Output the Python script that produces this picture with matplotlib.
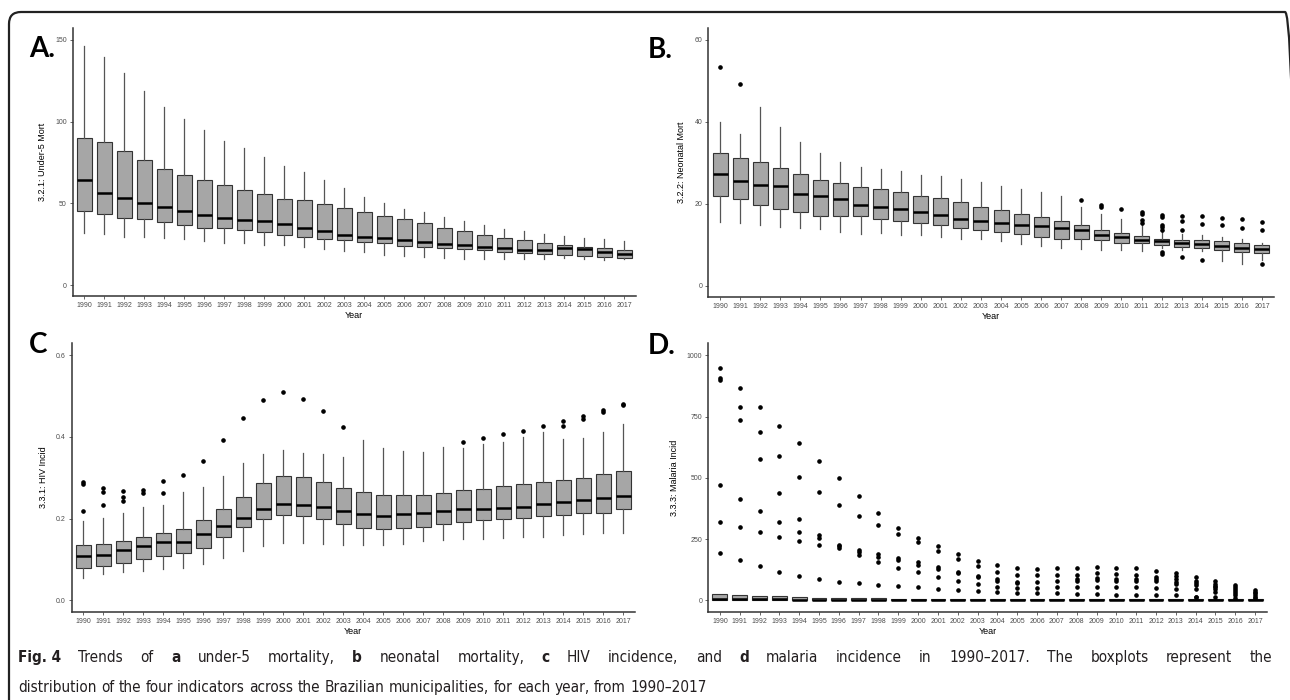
import numpy as np
import matplotlib.pyplot as plt
from matplotlib import font_manager
from matplotlib.font_manager import FontProperties
from matplotlib.patches import FancyBboxPatch
from matplotlib.transforms import IdentityTransform

YEARS = [str(y) for y in range(1990, 2018)]

# A. under-5 mortality
a_q1 = [45.3, 43.5, 41.0, 40.2, 38.4, 36.9, 35.1, 35.1, 33.9, 32.5, 30.6, 29.2, 28.4, 27.8,
        26.3, 25.5, 24.1, 23.3, 22.7, 22.0, 21.2, 20.2, 19.4, 19.0, 18.2, 18.0, 16.9, 16.5]
a_med = [64.3, 56.3, 53.5, 50.4, 47.6, 45.1, 42.9, 40.8, 40.0, 39.2, 37.4, 35.1, 33.1, 30.4,
         29.4, 28.6, 27.3, 26.1, 25.3, 24.3, 23.5, 22.5, 21.2, 21.6, 22.7, 21.8, 20.2, 19.2]
a_q3 = [89.8, 87.3, 82.3, 76.7, 71.2, 67.4, 64.1, 61.0, 58.2, 55.9, 52.7, 51.8, 49.6, 47.4,
        44.9, 42.5, 40.2, 38.0, 35.1, 33.1, 30.6, 28.8, 27.6, 25.7, 24.5, 23.5, 22.5, 21.2]
a_lo = [31.6, 31.0, 29.6, 29.2, 28.8, 28.2, 27.1, 25.5, 25.5, 24.7, 24.5, 23.3, 22.0, 21.0,
        20.0, 18.6, 17.8, 16.9, 16.5, 16.1, 15.9, 15.9, 15.9, 15.9, 16.5, 16.1, 15.3, 15.7]
a_hi = [146.3, 139.8, 129.6, 119.0, 109.2, 101.6, 94.7, 88.2, 83.7, 78.6, 72.7, 69.0, 64.1, 59.2,
        54.1, 50.2, 46.7, 44.5, 41.6, 39.4, 36.5, 34.3, 33.1, 31.0, 29.8, 29.0, 28.4, 27.1]
a_out = [[] for _ in YEARS]

# B. neonatal mortality
b_q1 = [21.8, 21.2, 19.6, 18.7, 18.1, 17.1, 17.1, 17.0, 16.2, 15.8, 15.3, 14.8, 14.2, 13.6,
        13.2, 12.6, 11.8, 11.5, 11.3, 11.2, 10.4, 10.4, 10.0, 9.5, 9.2, 8.7, 8.2, 7.9]
b_med = [27.3, 25.6, 24.5, 24.4, 22.5, 21.8, 21.1, 19.8, 19.2, 18.7, 18.0, 17.3, 16.2, 15.7,
         15.3, 14.9, 14.6, 14.0, 13.5, 12.4, 11.8, 11.2, 10.9, 10.5, 10.1, 9.8, 9.3, 9.0]
b_q3 = [32.5, 31.1, 30.3, 28.7, 27.2, 25.9, 25.1, 24.2, 23.5, 22.9, 21.8, 21.4, 20.4, 19.3,
        18.4, 17.5, 16.7, 15.8, 14.7, 13.7, 12.9, 12.1, 11.4, 11.2, 11.2, 11.0, 10.4, 10.0]
b_lo = [15.6, 15.4, 14.8, 14.4, 14.0, 13.8, 13.1, 12.6, 12.8, 12.4, 12.3, 11.8, 11.5, 11.3,
        10.9, 10.2, 9.6, 9.3, 9.0, 8.7, 8.7, 8.5, 9.1, 8.6, 8.5, 6.1, 5.4, 6.2]
b_hi = [40.0, 37.1, 43.6, 38.7, 35.0, 32.4, 30.3, 29.0, 28.5, 27.9, 27.0, 26.8, 26.1, 25.2,
        24.4, 23.7, 22.9, 21.9, 19.3, 17.5, 16.3, 15.2, 13.0, 12.7, 12.4, 11.8, 11.3, 10.5]
b_out = [[53.4], [49.2], [], [], [], [], [], [], [], [], [], [], [], [], [], [], [], [],
         [20.8], [19.8, 19.2], [18.6], [18.1, 17.6, 16.0, 15.4],
         [17.3, 16.7, 14.9, 14.4, 13.5, 8.2, 7.8], [17.0, 15.9, 13.6, 7.0],
         [17.1, 15.1, 6.3], [16.6, 14.7], [16.3, 14.0], [15.5, 13.6, 5.2]]

# C. HIV incidence
c_q1 = [0.080, 0.085, 0.092, 0.102, 0.109, 0.116, 0.129, 0.154, 0.180, 0.199, 0.210, 0.207, 0.200, 0.186,
        0.177, 0.175, 0.177, 0.180, 0.186, 0.192, 0.196, 0.199, 0.202, 0.206, 0.210, 0.213, 0.215, 0.223]
c_med = [0.109, 0.112, 0.122, 0.134, 0.142, 0.144, 0.162, 0.182, 0.202, 0.224, 0.235, 0.233, 0.228, 0.218,
         0.211, 0.207, 0.211, 0.215, 0.219, 0.223, 0.224, 0.225, 0.229, 0.235, 0.240, 0.246, 0.251, 0.256]
c_q3 = [0.135, 0.139, 0.146, 0.155, 0.165, 0.175, 0.196, 0.223, 0.253, 0.288, 0.304, 0.301, 0.290, 0.276,
        0.264, 0.257, 0.259, 0.257, 0.263, 0.270, 0.273, 0.279, 0.286, 0.290, 0.294, 0.300, 0.310, 0.316]
c_lo = [0.054, 0.064, 0.069, 0.073, 0.077, 0.080, 0.089, 0.104, 0.121, 0.132, 0.140, 0.140, 0.139, 0.136,
        0.135, 0.135, 0.138, 0.146, 0.148, 0.149, 0.151, 0.153, 0.154, 0.156, 0.160, 0.162, 0.166, 0.166]
c_hi = [0.194, 0.201, 0.213, 0.228, 0.233, 0.264, 0.278, 0.304, 0.335, 0.358, 0.368, 0.361, 0.358, 0.351,
        0.392, 0.374, 0.366, 0.362, 0.375, 0.374, 0.382, 0.388, 0.399, 0.411, 0.394, 0.397, 0.412, 0.432]
c_out = [[0.289, 0.286, 0.218], [0.276, 0.265, 0.233], [0.267, 0.254, 0.243], [0.271, 0.262],
         [0.291, 0.262], [0.308], [0.340], [0.392], [0.447], [0.490], [0.509], [0.494], [0.463],
         [0.425], [], [], [], [], [], [0.388], [0.398], [0.407], [0.415], [0.427], [0.439, 0.427],
         [0.452, 0.443], [0.465, 0.461], [0.480, 0.477]]

# D. malaria incidence
d_q1 = [1, 1, 1, 1, 0.5, 0.3, 0.3, 0.3, 0.3, 0, 0, 0, 0, 0,
        0, 0, 0, 0, 0, 0, 0, 0, 0, 0, 0, 0, 0, 0]
d_med = [6, 5, 4, 4, 3, 2, 2, 2, 2, 1, 1, 1, 1, 1,
         1, 1, 1, 1, 1, 1, 1, 1, 1, 1, 1, 1, 1, 1]
d_q3 = [27, 22, 19, 16, 12, 9, 9, 9, 9, 5, 5, 5, 5, 5,
        5, 5, 5, 5, 5, 5, 5, 5, 5, 5, 5, 5, 5, 4]
d_lo = [0] * 28
d_hi = d_q3
d_out = [[948, 908, 901, 470, 318, 193], [868, 789, 735, 414, 299, 166],
         [789, 685, 576, 363, 279, 141], [713, 588, 439, 318, 260, 117],
         [640, 505, 330, 279, 243, 98], [569, 442, 265, 254, 227, 86],
         [500, 390, 227, 220, 212, 76], [427, 344, 207, 197, 183, 71],
         [357, 306, 189, 178, 156, 64], [296, 269, 174, 164, 133, 58],
         [256, 236, 156, 144, 114, 53], [223, 202, 137, 129, 95, 46],
         [189, 170, 117, 111, 79, 43], [160, 139, 101, 94, 65, 37],
         [143, 115, 86, 80, 56, 33], [133, 103, 76, 72, 52, 31],
         [129, 102, 75, 50, 29], [133, 103, 79, 53, 29],
         [133, 105, 86, 79, 53, 26], [136, 110, 90, 82, 56, 26],
         [133, 107, 88, 79, 56, 23], [130, 102, 86, 79, 56, 20],
         [121, 95, 87, 79, 52, 22], [110, 98, 86, 76, 65, 46, 22],
         [96, 79, 72, 61, 48, 15, 12], [80, 65, 58, 53, 48, 34, 15],
         [61, 53, 45, 39, 29, 20, 11], [41, 35, 29, 20, 15, 8]]

BOX_FILL = "#a6a6a6"
EDGE = "#333333"
TICK_GREY = "#4d4d4d"
W, H = 1290, 700


def make_stats(q1, med, q3, lo, hi, out):
    stats = []
    for i in range(len(q1)):
        stats.append(dict(q1=q1[i], med=med[i], q3=q3[i],
                          whislo=lo[i], whishi=hi[i], fliers=out[i]))
    return stats


def draw_panel(rect, stats, ylim, yticks, yticklabels, ylabel):
    ax = fig.add_axes(rect)
    ax.bxp(stats, positions=range(len(stats)), widths=0.75, patch_artist=True,
           showcaps=False,
           boxprops=dict(facecolor=BOX_FILL, edgecolor=EDGE, linewidth=0.8),
           medianprops=dict(color="black", linewidth=1.8),
           whiskerprops=dict(color="#555555", linewidth=0.9),
           flierprops=dict(marker="o", markerfacecolor="black",
                           markeredgecolor="black", markersize=2.3))
    ax.set_xlim(-0.6, len(stats) - 0.4)
    ax.set_ylim(*ylim)
    ax.set_xticks(range(len(stats)))
    ax.set_xticklabels(YEARS)
    ax.set_yticks(yticks)
    ax.set_yticklabels(yticklabels)
    ax.tick_params(labelsize=5, colors=TICK_GREY, length=2.5, width=0.6, pad=1.5)
    ax.set_xlabel("Year", fontsize=6.5, labelpad=1.5)
    ax.set_ylabel(ylabel, fontsize=6.5, labelpad=6)
    for s in ["top", "right"]:
        ax.spines[s].set_visible(False)
    for s in ["left", "bottom"]:
        ax.spines[s].set_color(EDGE)
        ax.spines[s].set_linewidth(1.1)
    return ax


def px_rect(left, top, right, bottom):
    return [left / W, 1 - bottom / H, (right - left) / W, (bottom - top) / H]


fig = plt.figure(figsize=(12.9, 7), dpi=100)
plt.rcParams["font.family"] = ["Liberation Sans", "DejaVu Sans"]

draw_panel(px_rect(72.5, 28, 636, 296), make_stats(a_q1, a_med, a_q3, a_lo, a_hi, a_out),
           (-6.7, 157.3), [0, 50, 100, 150], ["0", "50", "100", "150"], "3.2.1: Under-5 Mort")
draw_panel(px_rect(708, 28, 1274, 297), make_stats(b_q1, b_med, b_q3, b_lo, b_hi, b_out),
           (-2.76, 62.9), [0, 20, 40, 60], ["0", "20", "40", "60"], "3.2.2: Neonatal Mort")
draw_panel(px_rect(71.5, 343, 635, 612), make_stats(c_q1, c_med, c_q3, c_lo, c_hi, c_out),
           (-0.0286, 0.630), [0, 0.2, 0.4, 0.6], ["0.0", "0.2", "0.4", "0.6"], "3.3.1: HIV Incid")
draw_panel(px_rect(708, 343, 1267, 612), make_stats(d_q1, d_med, d_q3, d_lo, d_hi, d_out),
           (-47.7, 1050), [0, 250, 500, 750, 1000], ["0", "250", "500", "750", "1000"],
           "3.3.3: Malaria Incid")

# panel letters
letter_font = ["Lato", "DejaVu Sans"]
for s, x, y in [("A.", 29, 57), ("B.", 648, 58), ("C", 29, 353), ("D.", 648, 354)]:
    fig.text(x, H - y, s, fontsize=20, fontweight="bold", family=letter_font,
             va="baseline", transform=IdentityTransform())

# frame round the figure, right and bottom edges fall outside the picture
fig.add_artist(FancyBboxPatch((9, -60), 1288, H - 12 + 60, boxstyle="round,pad=0,rounding_size=12",
                              transform=IdentityTransform(), facecolor="none",
                              edgecolor="#222222", linewidth=1.6))


# caption: look for a narrow sans face, else plain Liberation Sans
def narrow_face(bold):
    for f in font_manager.fontManager.ttflist:
        fn = f.fname.lower()
        if ("narrow" in fn or "condensed" in fn) and "sans" in fn and "mono" not in fn \
                and "italic" not in fn and "oblique" not in fn and ("bold" in fn) == bold:
            return f.fname
    return None


def cap_prop(size, bold):
    fname = narrow_face(bold)
    if fname:
        return FontProperties(fname=fname, size=size)
    return FontProperties(family="Liberation Sans", weight="bold" if bold else "normal", size=size)


NBSP = "\u00a0"
line1 = [("Fig." + NBSP + "4", True), ("Trends of", False), ("a", True), ("under-5 mortality,", False),
         ("b", True), ("neonatal mortality,", False), ("c", True), ("HIV incidence, and", False),
         ("d", True), ("malaria incidence in 1990\u20132017. The boxplots represent the", False)]
line2 = [("distribution of the four indicators across the Brazilian municipalities, "
          "for each year, from 1990\u20132017", False)]

renderer = fig.canvas.get_renderer()


def text_width(s, size, bold):
    t = fig.text(0, 0, s, fontproperties=cap_prop(size, bold))
    w = t.get_window_extent(renderer).width
    t.remove()
    return w


def words(pieces):
    out = []
    for s, b in pieces:
        out += [(w, b) for w in s.split(" ")]
    return out


def caption_line(pieces, x, y, size, width=None):
    ws = words(pieces)
    widths = [text_width(w, size, b) for w, b in ws]
    if width is None:
        gap = text_width("x x", size, False) - text_width("xx", size, False)
    else:
        gap = (width - sum(widths)) / (len(ws) - 1)
    for (w, b), wd in zip(ws, widths):
        fig.text(x, H - y, w, fontproperties=cap_prop(size, b), color="#231f20",
                 va="baseline", transform=IdentityTransform())
        x += wd + gap


# line 2 sets the size, line 1 is justified to the full width
natural = sum(text_width(w, 12, b) for w, b in words(line2)) + \
    (len(words(line2)) - 1) * (text_width("x x", 12, False) - text_width("xx", 12, False))
cap_size = 12 * 684 / natural

caption_line(line1, 18, 662, cap_size, width=1254)
caption_line(line2, 18, 692, cap_size)

fig.savefig("out.png", dpi=100)
